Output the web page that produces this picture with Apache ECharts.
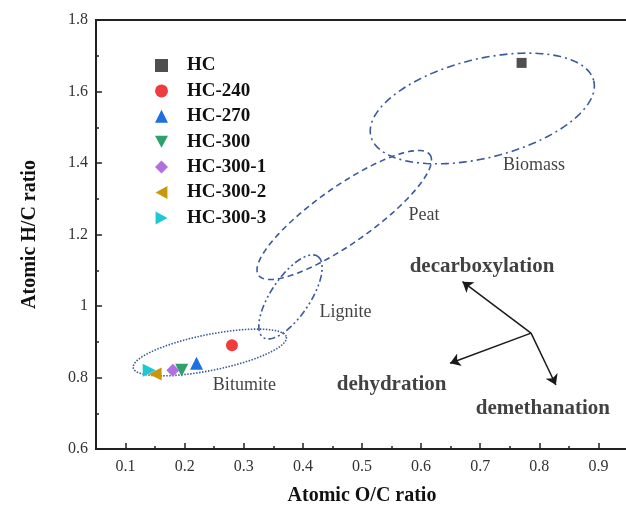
<!DOCTYPE html>
<html><head><meta charset="utf-8">
<script src="https://cdn.jsdelivr.net/npm/echarts@6/dist/echarts.min.js"></script>
<style>html,body{margin:0;padding:0;background:#fff}#c{width:626px;height:509px}</style>
</head><body><div id="c"></div>
<script>
// ---- data ----
const seriesNames = ['HC','HC-240','HC-270','HC-300','HC-300-1','HC-300-2','HC-300-3'];
const ocRatio = [0.77, 0.28, 0.22, 0.195, 0.18, 0.15, 0.14];
const hcRatio = [1.68, 0.89, 0.84, 0.82, 0.82, 0.81, 0.82];
const xTickLabels = [0.1,0.2,0.3,0.4,0.5,0.6,0.7,0.8,0.9];
const xMinorTicks = [0.15,0.25,0.35,0.45,0.55,0.65,0.75,0.85];
const regionNames = ['Biomass','Peat','Lignite','Bitumite'];
const regionAxisStart = [[0.515,1.475],[0.325,1.086],[0.333,0.912],[0.113,0.827]];
const regionAxisEnd   = [[0.892,1.630],[0.615,1.423],[0.425,1.139],[0.372,0.913]];
const regionWidthRatio = [0.43,0.27,0.40,0.23];
const regionLabelPos = [[0.791,1.394],[0.605,1.255],[0.472,0.983],[0.301,0.779]];
const processNames = ['decarboxylation','dehydration','demethanation'];
const processOrigin = [0.786,0.924];
const processArrowEnd = [[0.670,1.068],[0.649,0.840],[0.828,0.779]];
const processLabelPos = [[0.703,1.109],[0.550,0.779],[0.806,0.712]];

// ---- styles ----
const serif = 'Liberation Serif, Times New Roman, serif';
const colors = ['#4f4f4f','#f03c3c','#1e6fe0','#2ea06a','#b070e0','#c9960c','#1cc8d2'];
const symbols = ['rect','circle','triangle',
  'path://M0,0L12,0L6,11Z','diamond','path://M11,0L11,12L0,6Z','path://M0,0L11,6L0,12Z'];
const sizes = [10,12,13,13,13,13,13];
const dashes = [[8,4,2,4],[6,4],[7,3,2,3,2,3],[1.5,1.5]];
const ellColor = '#3a5a9c';

const chart = echarts.init(document.getElementById('c'));
const scatterSeries = seriesNames.map((n,i)=>({
  name:n, type:'scatter', data:[[ocRatio[i],hcRatio[i]]],
  symbol:symbols[i], symbolSize:sizes[i],
  itemStyle:{color:colors[i], opacity:1}, z:5
}));
const plainLabel = (size, weight)=>({
  show:true, position:[0,0], align:'center', verticalAlign:'middle',
  formatter:p=>p.name, fontFamily:serif, fontSize:size, fontWeight:weight,
  color:'#111', textBorderWidth:0
});

const option = {
  animation:false,
  grid:{left:96, top:20, right:-2, bottom:60, show:true, borderColor:'#222', borderWidth:2,
        containLabel:false, outerBoundsMode:'none'},
  legend:{
    data:seriesNames.map((n,i)=>({name:n, icon:symbols[i]})),
    orient:'vertical', left:150, top:51, itemGap:6.4,
    itemWidth:13, itemHeight:13,
    textStyle:{fontFamily:serif, fontSize:19, fontWeight:'bold', color:'#111', padding:[0,0,0,14]}
  },
  xAxis:[{
    type:'value', min:0.05, max:0.95, interval:0.05,
    axisLine:{show:true, onZero:false, lineStyle:{color:'#222', width:2}},
    axisTick:{show:true, inside:true, length:6, customValues:xTickLabels, lineStyle:{color:'#222', width:1.5}},
    axisLabel:{customValues:xTickLabels, formatter:v=>v.toFixed(1), margin:10, fontFamily:serif, fontSize:16, color:'#333'},
    splitLine:{show:false},
    name:'Atomic O/C ratio', nameLocation:'middle', nameGap:37,
    nameTextStyle:{fontFamily:serif, fontSize:20, fontWeight:'bold', color:'#111'}
  },{
    type:'value', min:0.05, max:0.95, interval:0.05, position:'bottom',
    axisLine:{show:false},
    axisTick:{show:true, inside:true, length:3, customValues:xMinorTicks, lineStyle:{color:'#222', width:1.5}},
    axisLabel:{show:false}, splitLine:{show:false}
  }],
  yAxis:{
    type:'value', min:0.6, max:1.8, interval:0.2,
    axisLine:{show:true, onZero:false, lineStyle:{color:'#222', width:2}},
    axisTick:{show:true, inside:true, length:6, lineStyle:{color:'#222', width:1.5}},
    minorTick:{show:true, splitNumber:2, length:3, lineStyle:{color:'#222', width:1.5}},
    axisLabel:{formatter:v=>String(parseFloat(v.toFixed(1))), margin:8, fontFamily:serif, fontSize:16, color:'#333'},
    splitLine:{show:false},
    name:'Atomic H/C ratio', nameLocation:'middle', nameGap:56,
    nameTextStyle:{fontFamily:serif, fontSize:20, fontWeight:'bold', color:'#111'}
  },
  series:[
    ...scatterSeries,
    {
      type:'custom', silent:true, clip:false, z:2,
      data: regionNames.map((n,i)=>regionAxisStart[i].concat(regionAxisEnd[i])),
      encode:{x:[0,2], y:[1,3]},
      renderItem:(params, api)=>{
        const i = params.dataIndex;
        const p1 = api.coord([api.value(0), api.value(1)]);
        const p2 = api.coord([api.value(2), api.value(3)]);
        const cx=(p1[0]+p2[0])/2, cy=(p1[1]+p2[1])/2;
        const dx=(p2[0]-p1[0])/2, dy=(p2[1]-p1[1])/2;
        const a=Math.hypot(dx,dy), b=a*regionWidthRatio[i];
        const ux=dx/a, uy=dy/a, vx=-uy, vy=ux;
        const pts=[];
        for(let k=0;k<=160;k++){
          const t=2*Math.PI*k/160;
          pts.push([cx+a*Math.cos(t)*ux+b*Math.sin(t)*vx, cy+a*Math.cos(t)*uy+b*Math.sin(t)*vy]);
        }
        return {type:'polygon', shape:{points:pts},
          style:{fill:'none', stroke:ellColor, lineWidth:1.6, lineDash:dashes[i]}};
      }
    },
    {
      type:'lines', coordinateSystem:'cartesian2d', silent:true, z:3,
      data: processArrowEnd.map(e=>({coords:[processOrigin, e]})),
      symbol:['none','arrow'], symbolSize:10,
      lineStyle:{color:'#1a1a1a', width:1.5, opacity:1}
    },
    {
      type:'scatter', silent:true, symbolSize:0, z:4,
      data: regionLabelPos.map((p,i)=>({value:p, name:regionNames[i]})),
      label: plainLabel(18,'normal')
    },
    {
      type:'scatter', silent:true, symbolSize:0, z:4,
      data: processLabelPos.map((p,i)=>({value:p, name:processNames[i]})),
      label: plainLabel(21,'bold')
    }
  ]
};
chart.setOption(option);
</script>
</body></html>
